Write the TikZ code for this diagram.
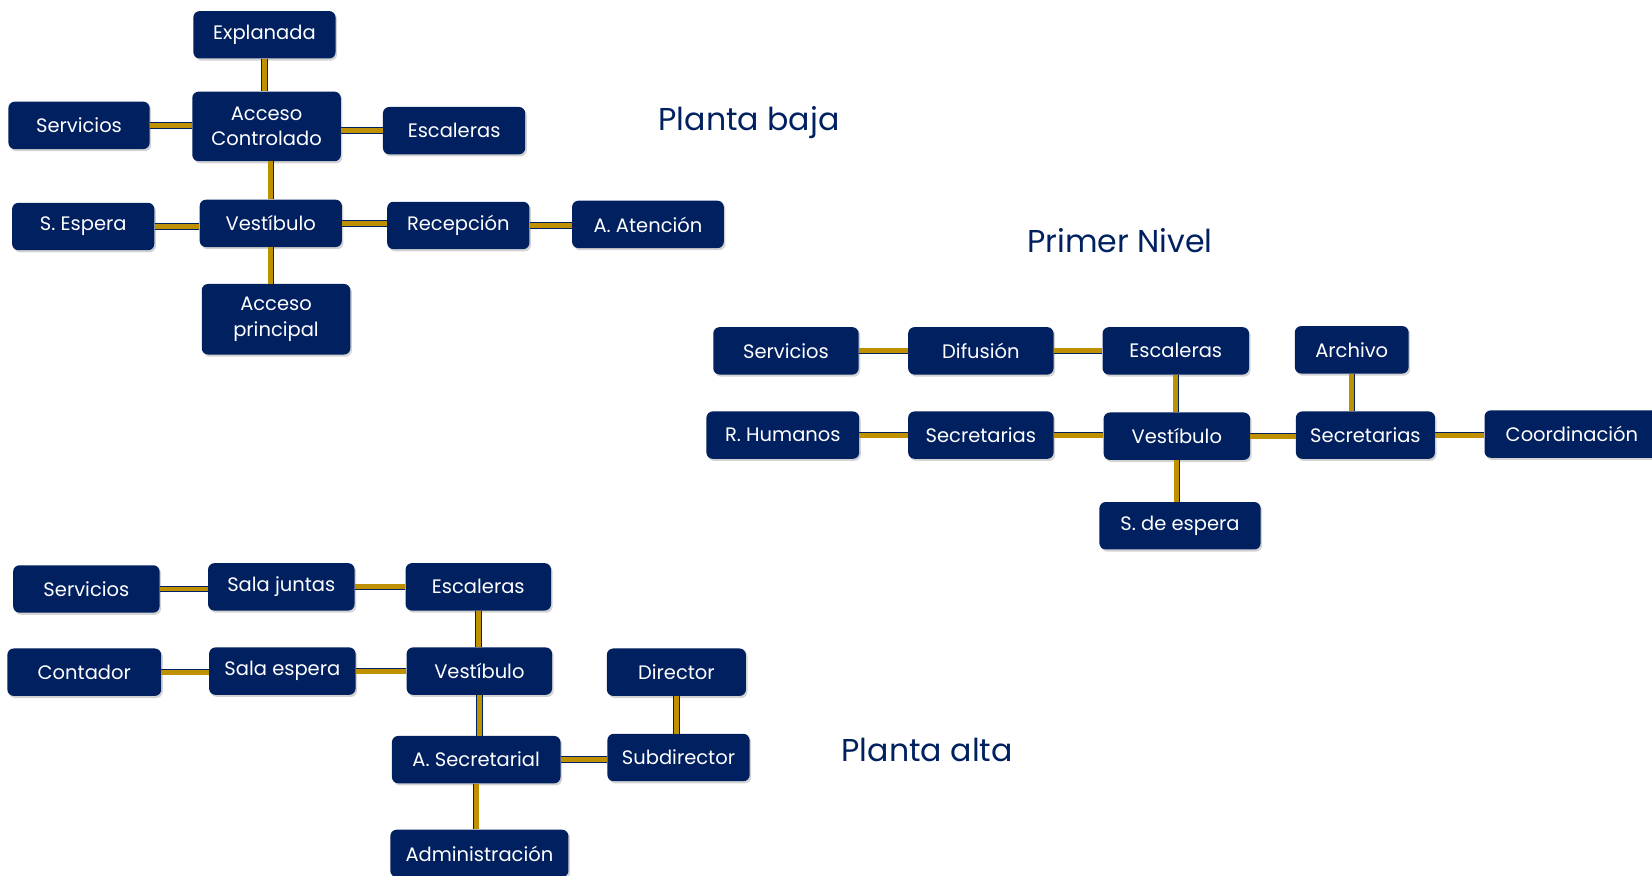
\documentclass[tikz,border=0pt]{standalone}
\usepackage{fontspec}
\setmainfont{Poppins}
\definecolor{navy}{RGB}{0,32,96}
\definecolor{gold}{RGB}{191,144,0}
\usetikzlibrary{shadows}

\begin{document}
\begin{tikzpicture}[
    x=1pt, y=-1pt,
    room/.style={rectangle, rounded corners=6pt, fill=navy, text=white, align=center,
        minimum width=135pt, minimum height=45pt, inner sep=2pt,
        font=\fontsize{18.5}{24}\selectfont,
        drop shadow={shadow xshift=1.5pt, shadow yshift=-2pt, opacity=0.35}},
    link/.style={draw=navy, line width=0.8pt, double=gold, double distance=4.5pt},
    title/.style={font=\fontsize{30}{34}\selectfont, text=navy}
]
    \useasboundingbox (0,0) rectangle (1568,831);

    % Planta baja
    \node[title] (tB) at (711,116) {Planta baja};
    \node[room] (expl) at (251,33) {Explanada};
    \node[room, minimum width=141pt, minimum height=66pt] (acc) at (253,120) {Acceso\\Controlado};
    \node[room, minimum width=134pt] (servB) at (75,119) {Servicios};
    \node[room] (escB) at (431,124) {Escaleras};
    \node[room] (espB) at (79,215) {S. Espera};
    \node[room] (vestB) at (257,212) {Vestíbulo};
    \node[room] (recep) at (435,214) {Recepción};
    \node[room, minimum width=144pt] (aten) at (615,213) {A. Atención};
    \node[room, minimum width=141pt, minimum height=67pt] (accp) at (262,303) {Acceso\\principal};

    \draw[link] (expl.south) -- (expl.south |- acc.north);
    \draw[link] (servB.east) -- (servB.east -| acc.west);
    \draw[link] (escB.west) -- (escB.west -| acc.east);
    \draw[link] (vestB.north) -- (vestB.north |- acc.south);
    \draw[link] (espB.east) -- (espB.east -| vestB.west);
    \draw[link] (vestB.east) -- (vestB.east -| recep.west);
    \draw[link] (recep.east) -- (recep.east -| aten.west);
    \draw[link] (vestB.south) -- (vestB.south |- accp.north);

    % Primer Nivel
    \node[title] (tN) at (1063,228) {Primer Nivel};
    \node[room, minimum width=138pt] (servN) at (746,333) {Servicios};
    \node[room, minimum width=138pt] (difu) at (931,333) {Difusión};
    \node[room, minimum width=139pt] (escN) at (1116,333) {Escaleras};
    \node[room, minimum width=108pt] (arch) at (1283,332) {Archivo};
    \node[room, minimum width=145pt] (rhum) at (743,413) {R. Humanos};
    \node[room, minimum width=138pt] (secN) at (931,413) {Secretarias};
    \node[room, minimum width=139pt] (vestN) at (1117,414) {Vestíbulo};
    \node[room, minimum width=132pt] (secD) at (1296,413) {Secretarias};
    \node[room, minimum width=166pt] (coord) at (1492,412) {Coordinación};
    \node[room, minimum width=153pt] (espN) at (1120,499) {S. de espera};

    \draw[link] (servN.east) -- (servN.east -| difu.west);
    \draw[link] (difu.east) -- (difu.east -| escN.west);
    \draw[link] (escN.south) -- (escN.south |- vestN.north);
    \draw[link] (rhum.east) -- (rhum.east -| secN.west);
    \draw[link] (secN.east) -- (secN.east -| vestN.west);
    \draw[link] (vestN.east) -- (vestN.east -| secD.west);
    \draw[link] (secD.north -| arch.south) -- (arch.south);
    \draw[link] (secD.east) -- (secD.east -| coord.west);
    \draw[link] (vestN.south) -- (vestN.south |- espN.north);

    % Planta alta
    \node[title] (tA) at (880,712) {Planta alta};
    \node[room, minimum width=139pt] (servA) at (82,559) {Servicios};
    \node[room, minimum width=139pt] (sjun) at (267,557) {Sala juntas};
    \node[room, minimum width=138pt] (escA) at (454,557) {Escaleras};
    \node[room, minimum width=146pt] (cont) at (80,638) {Contador};
    \node[room, minimum width=139pt] (sesp) at (268,637) {Sala espera};
    \node[room, minimum width=138pt] (vestA) at (455,637) {Vestíbulo};
    \node[room, minimum width=132pt] (dir) at (642,638) {Director};
    \node[room, minimum width=160pt] (asec) at (452,721) {A. Secretarial};
    \node[room, minimum width=135pt] (subd) at (644,719) {Subdirector};
    \node[room, minimum width=169pt] (admin) at (455,810) {Administración};

    \draw[link] (servA.east) -- (servA.east -| sjun.west);
    \draw[link] (sjun.east) -- (sjun.east -| escA.west);
    \draw[link] (escA.south) -- (escA.south |- vestA.north);
    \draw[link] (cont.east) -- (cont.east -| sesp.west);
    \draw[link] (sesp.east) -- (sesp.east -| vestA.west);
    \draw[link] (vestA.south) -- (vestA.south |- asec.north);
    \draw[link] (asec.east) -- (asec.east -| subd.west);
    \draw[link] (dir.south) -- (dir.south |- subd.north);
    \draw[link] (asec.south) -- (asec.south |- admin.north);
\end{tikzpicture}
\end{document}
